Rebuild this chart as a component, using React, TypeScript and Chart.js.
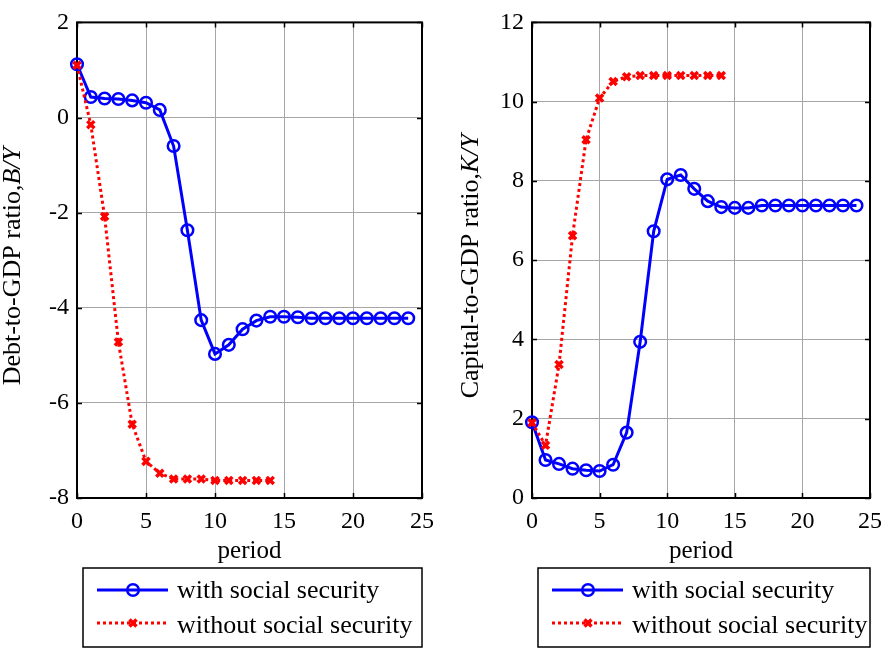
import React, { useEffect, useRef } from "react";
import { Chart, registerables } from "chart.js";

Chart.register(...registerables);

// ---------- data ----------
const periodsWith = [0, 1, 2, 3, 4, 5, 6, 7, 8, 9, 10, 11, 12, 13, 14, 15, 16, 17, 18, 19, 20, 21, 22, 23, 24];
const periodsWithout = [0, 1, 2, 3, 4, 5, 6, 7, 8, 9, 10, 11, 12, 13, 14];

const debtWith = [1.12, 0.43, 0.4, 0.39, 0.36, 0.31, 0.16, -0.6, -2.37, -4.26, -4.97, -4.78, -4.45, -4.27, -4.19, -4.19, -4.2, -4.22, -4.22, -4.22, -4.22, -4.22, -4.22, -4.22, -4.22];
const debtWithout = [1.1, -0.15, -2.08, -4.72, -6.45, -7.23, -7.48, -7.6, -7.6, -7.6, -7.63, -7.63, -7.63, -7.63, -7.63];

const capitalWith = [1.91, 0.96, 0.86, 0.74, 0.7, 0.68, 0.84, 1.65, 3.94, 6.73, 8.04, 8.15, 7.8, 7.49, 7.34, 7.32, 7.32, 7.38, 7.38, 7.38, 7.38, 7.38, 7.38, 7.38, 7.38];
const capitalWithout = [1.9, 1.33, 3.37, 6.62, 9.04, 10.09, 10.51, 10.63, 10.66, 10.66, 10.66, 10.66, 10.66, 10.66, 10.66];

const xTicks = [0, 5, 10, 15, 20, 25];
const debtTicks = [-8, -6, -4, -2, 0, 2];
const capitalTicks = [0, 2, 4, 6, 8, 10, 12];

const seriesLabels = ["with social security", "without social security"];
const xTitle = "period";

const FONT = '"Liberation Serif", "Times New Roman", serif';
const BLUE = "#0000ff";
const RED = "#ff0000";

type PanelSpec = {
  left: number;
  width: number;
  yAxisWidth: number;
  padRight: number;
  yTitleX: number;
  yTitleNormal: string;
  yTitleItalic: string;
  withVals: number[];
  withoutVals: number[];
  yTicks: number[];
};

function toPoints(xs: number[], ys: number[]) {
  return xs.map((x, i) => ({ x, y: ys[i] }));
}

function Panel({ spec }: { spec: PanelSpec }) {
  const ref = useRef<HTMLCanvasElement | null>(null);

  useEffect(() => {
    const canvas = ref.current;
    if (!canvas) return;

    const framePlugin = {
      id: "frame",
      beforeDatasetsDraw(chart: any) {
        const { ctx, chartArea: a, scales } = chart;
        ctx.save();
        ctx.strokeStyle = "#000";
        ctx.lineWidth = 1.5;
        const tl = 5;
        ctx.beginPath();
        scales.x.ticks.forEach((t: any) => {
          const px = Math.round(scales.x.getPixelForValue(t.value)) + 0.5;
          ctx.moveTo(px, a.bottom);
          ctx.lineTo(px, a.bottom - tl);
          ctx.moveTo(px, a.top);
          ctx.lineTo(px, a.top + tl);
        });
        scales.y.ticks.forEach((t: any) => {
          const py = Math.round(scales.y.getPixelForValue(t.value)) + 0.5;
          ctx.moveTo(a.left, py);
          ctx.lineTo(a.left + tl, py);
          ctx.moveTo(a.right, py);
          ctx.lineTo(a.right - tl, py);
        });
        ctx.stroke();
        ctx.lineWidth = 2;
        ctx.strokeRect(a.left, a.top, a.right - a.left, a.bottom - a.top);
        ctx.restore();
      },
    };

    const titlePlugin = {
      id: "ytitle",
      afterDraw(chart: any) {
        const { ctx, chartArea: a } = chart;
        ctx.save();
        ctx.translate(spec.yTitleX, (a.top + a.bottom) / 2 + 6);
        ctx.rotate(-Math.PI / 2);
        const fN = `26px ${FONT}`;
        const fI = `italic 26px ${FONT}`;
        ctx.font = fN;
        const w1 = ctx.measureText(spec.yTitleNormal).width;
        ctx.font = fI;
        const w2 = ctx.measureText(spec.yTitleItalic).width;
        const start = -(w1 + w2) / 2;
        ctx.fillStyle = "#000";
        ctx.textBaseline = "middle";
        ctx.textAlign = "left";
        ctx.font = fN;
        ctx.fillText(spec.yTitleNormal, start, 0);
        ctx.font = fI;
        ctx.fillText(spec.yTitleItalic, start + w1, 0);
        ctx.restore();
      },
    };

    const legendPlugin = {
      id: "boxlegend",
      afterDraw(chart: any) {
        const { ctx, chartArea: a } = chart;
        const bx = a.left + 6;
        const bw = a.right - bx;
        const by = 568;
        const bh = 79;
        ctx.save();
        ctx.fillStyle = "#fff";
        ctx.fillRect(bx, by, bw, bh);
        ctx.strokeStyle = "#000";
        ctx.lineWidth = 1.5;
        ctx.strokeRect(bx, by, bw, bh);
        const rows = [
          { y: 590, ty: 591, color: BLUE, dash: [] as number[], marker: "circle", label: seriesLabels[0] },
          { y: 623, ty: 626, color: RED, dash: [3, 3], marker: "cross", label: seriesLabels[1] },
        ];
        rows.forEach((r) => {
          ctx.strokeStyle = r.color;
          ctx.lineWidth = 3;
          ctx.setLineDash(r.dash);
          ctx.beginPath();
          ctx.moveTo(bx + 14, r.y);
          ctx.lineTo(bx + 85, r.y);
          ctx.stroke();
          ctx.setLineDash([]);
          const mx = bx + 50;
          if (r.marker === "circle") {
            ctx.lineWidth = 2.5;
            ctx.beginPath();
            ctx.arc(mx, r.y, 5.8, 0, Math.PI * 2);
            ctx.stroke();
          } else {
            ctx.lineWidth = 3.5;
            ctx.beginPath();
            ctx.moveTo(mx - 3.5, r.y - 3.5);
            ctx.lineTo(mx + 3.5, r.y + 3.5);
            ctx.moveTo(mx + 3.5, r.y - 3.5);
            ctx.lineTo(mx - 3.5, r.y + 3.5);
            ctx.stroke();
          }
          ctx.fillStyle = "#000";
          ctx.font = `26px ${FONT}`;
          ctx.textBaseline = "middle";
          ctx.textAlign = "left";
          ctx.fillText(r.label, bx + 94, r.ty);
        });
        ctx.restore();
      },
    };

    const chart = new Chart(canvas, {
      type: "line",
      data: {
        datasets: [
          {
            label: seriesLabels[1],
            data: toPoints(periodsWithout, spec.withoutVals),
            borderColor: RED,
            backgroundColor: RED,
            borderWidth: 3,
            borderDash: [3, 3],
            pointStyle: "crossRot",
            pointRadius: 5,
            pointBorderWidth: 3.5,
            pointBorderColor: RED,
            tension: 0,
            clip: false,
          } as any,
          {
            label: seriesLabels[0],
            data: toPoints(periodsWith, spec.withVals),
            borderColor: BLUE,
            backgroundColor: "rgba(0,0,0,0)",
            borderWidth: 3,
            pointStyle: "circle",
            pointRadius: 5.8,
            pointBorderWidth: 2.5,
            pointBorderColor: BLUE,
            pointBackgroundColor: "rgba(0,0,0,0)",
            tension: 0,
            clip: false,
          } as any,
        ],
      },
      options: {
        responsive: false,
        animation: false,
        layout: { padding: { top: 15, right: spec.padRight, bottom: 81, left: 0 } },
        plugins: { legend: { display: false }, tooltip: { enabled: false } },
        scales: {
          x: {
            type: "linear",
            min: 0,
            max: 25,
            afterBuildTicks: (s: any) => {
              s.ticks = xTicks.map((v) => ({ value: v }));
            },
            afterFit: (s: any) => {
              s.height = 70;
            },
            ticks: {
              color: "#000",
              padding: 9,
              font: { family: FONT, size: 24 },
              maxRotation: 0,
              callback: (v: any) => String(v),
            },
            grid: { color: "#a6a6a6", lineWidth: 1, drawTicks: false },
            border: { display: false },
            title: {
              display: true,
              text: xTitle,
              color: "#000",
              font: { family: FONT, size: 25 },
              padding: { top: 4, bottom: 2 },
            },
          },
          y: {
            type: "linear",
            min: spec.yTicks[0],
            max: spec.yTicks[spec.yTicks.length - 1],
            afterBuildTicks: (s: any) => {
              s.ticks = spec.yTicks.map((v) => ({ value: v }));
            },
            afterFit: (s: any) => {
              s.width = spec.yAxisWidth;
            },
            ticks: {
              color: "#000",
              padding: 8,
              font: { family: FONT, size: 24 },
              callback: (v: any) => String(v),
            },
            grid: { color: "#a6a6a6", lineWidth: 1, drawTicks: false },
            border: { display: false },
          },
        },
      },
      plugins: [framePlugin, titlePlugin, legendPlugin],
    } as any);

    return () => chart.destroy();
  }, [spec]);

  return (
    <canvas
      ref={ref}
      width={spec.width}
      height={649}
      style={{ position: "absolute", left: spec.left, top: 0, width: spec.width, height: 649 }}
    />
  );
}

const leftSpec: PanelSpec = {
  left: 0,
  width: 450,
  yAxisWidth: 77,
  padRight: 28,
  yTitleX: 13,
  yTitleNormal: "Debt-to-GDP ratio,",
  yTitleItalic: "B/Y",
  withVals: debtWith,
  withoutVals: debtWithout,
  yTicks: debtTicks,
};

const rightSpec: PanelSpec = {
  left: 450,
  width: 441,
  yAxisWidth: 82,
  padRight: 14,
  yTitleX: 21,
  yTitleNormal: "Capital-to-GDP ratio,",
  yTitleItalic: "K/Y",
  withVals: capitalWith,
  withoutVals: capitalWithout,
  yTicks: capitalTicks,
};

export default function App() {
  return (
    <div style={{ position: "fixed", left: 0, top: 0, width: 891, height: 649, background: "#fff", overflow: "hidden" }}>
      <Panel spec={leftSpec} />
      <Panel spec={rightSpec} />
    </div>
  );
}
